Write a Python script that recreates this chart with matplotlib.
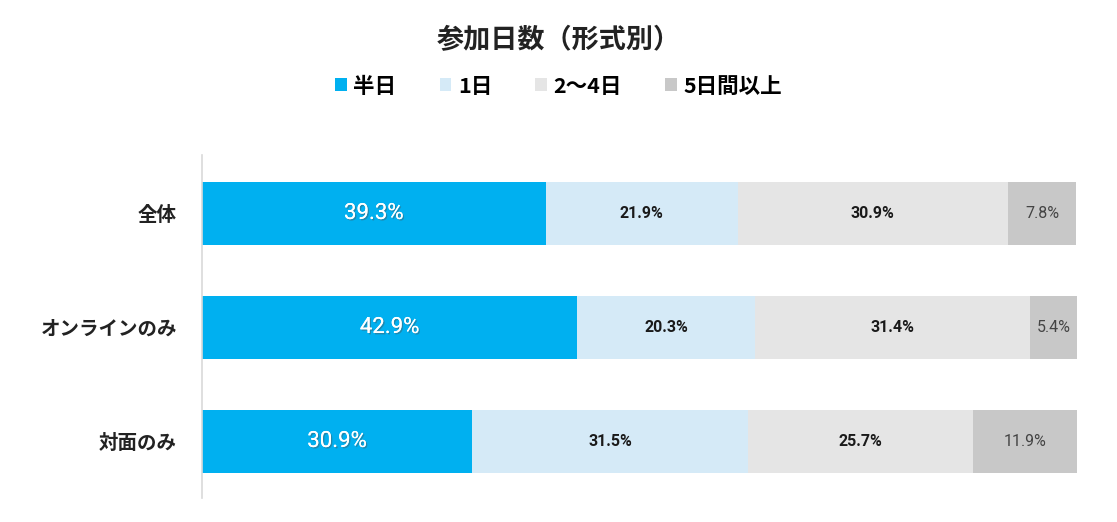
import matplotlib.pyplot as plt
import matplotlib.patheffects as pe
import numpy as np

plt.rcParams['font.family'] = ['Noto Sans CJK JP', 'DejaVu Sans']

# データ
categories = ["全体", "オンラインのみ", "対面のみ"]
series_names = ["半日", "1日", "2～4日", "5日間以上"]
half_day = [39.3, 42.9, 30.9]
one_day = [21.9, 20.3, 31.5]
two_to_four = [30.9, 31.4, 25.7]
five_plus = [7.8, 5.4, 11.9]

colors = ["#00B0F0", "#D5EAF7", "#E5E5E5", "#C8C8C8"]
text_colors = ["white", "#1a1a1a", "#1a1a1a", "#444444"]
text_sizes = [16, 11.5, 11.5, 11.5]
text_weights = ["normal", "bold", "bold", "normal"]

fig = plt.figure(figsize=(11.17, 5.22), dpi=100)
ax = fig.add_axes([202 / 1117, 24 / 522, 875 / 1117, 343 / 522])

y = np.arange(len(categories))
left = np.zeros(len(categories))
all_series = [half_day, one_day, two_to_four, five_plus]
for i, vals in enumerate(all_series):
    vals = np.array(vals)
    ax.barh(y, vals, left=left, height=0.553, color=colors[i],
            label=series_names[i], edgecolor="none")
    for j, v in enumerate(vals):
        t = ax.text(left[j] + v / 2, y[j], f"{v:.1f}%", ha="center", va="center",
                    color=text_colors[i], fontsize=text_sizes[i],
                    fontweight=text_weights[i],
                    family=["Roboto", "Noto Sans CJK JP"])
        if i == 0:
            t.set_path_effects([pe.withSimplePatchShadow(offset=(1, -1), alpha=0.4),
                                pe.Normal()])
    left += vals

ax.set_xlim(0, 100)
ax.set_ylim(2.496, -0.513)
ax.set_yticks(y)
ax.set_yticklabels(categories, fontsize=14, fontweight="bold", color="#222222")
ax.tick_params(axis="y", length=0, pad=18)
ax.set_xticks([])
for s in ["top", "right", "bottom"]:
    ax.spines[s].set_visible(False)
ax.spines["left"].set_color("#D9D9D9")
ax.spines["left"].set_linewidth(1.2)

fig.text(0.5, 1 - 40 / 522, "参加日数（形式別）", ha="center", va="center",
         fontsize=19.5, fontweight="bold", color="#222222")
fig.legend(loc="center", bbox_to_anchor=(0.5, 1 - 86 / 522), ncol=4,
           frameon=False, handlelength=0.55, handleheight=0.55,
           handletextpad=0.3, columnspacing=2.0,
           prop={"weight": "bold", "size": 15.5})

fig.savefig("out.png", dpi=100)
